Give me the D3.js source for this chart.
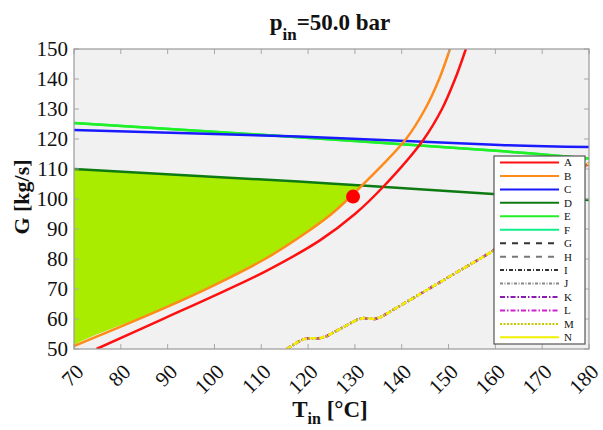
<!DOCTYPE html>
<html>
<head>
<meta charset="utf-8">
<script src="https://cdn.jsdelivr.net/npm/d3@7"></script>
<style>
  body { margin: 0; background: #fff; }
  text { font-family: "Liberation Serif", "Times New Roman", serif; fill: #111; }
</style>
</head>
<body>
<div id="chart"></div>
<script>
// values, [T_in, G]
const curveA = [[74.8, 50], [89.4, 60.3], [100, 67.8], [110.8, 75.8], [122.6, 86.3], [130, 95], [136, 104], [144.6, 119.7], [148.6, 130], [151.4, 140], [153.7, 150]];
const curveB = [[70, 51], [89.4, 63.7], [100, 71.3], [110.8, 80], [118.3, 87.4], [125, 95], [131.5, 104.5], [141, 120.2], [145, 130], [148, 140], [150.3, 150]];
const curveC = [[70, 123], [118, 120.8], [161, 118], [180, 117.3]];
const curveD = [[70, 110], [118, 105.8], [131.5, 104.5], [159.5, 101.7], [180, 99.7]];
const curveE = [[70, 125.3], [118, 120.6], [161, 116], [180, 113.5]];
const curveF = curveE;
const curveKL = [[115.4, 50], [118.3, 52.8], [119.8, 53.6], [122.5, 53.6], [124, 54.3], [130.5, 59.8], [131.8, 60.3], [134.3, 60], [135.5, 60.6], [159.2, 82.4], [180, 112]];
const opPoint = [129.6, 100.8];
const legendKeys = ["A", "B", "C", "D", "E", "F", "G", "H", "I", "J", "K", "L", "M", "N"];
const xTicks = d3.range(70, 181, 10);
const yTicks = d3.range(50, 151, 10);

const styles = {
  A: {color: "#ff1010", dash: null},
  B: {color: "#ff8a1a", dash: null},
  C: {color: "#1a1aff", dash: null},
  D: {color: "#0e7a12", dash: null},
  E: {color: "#22f022", dash: null},
  F: {color: "#10f08a", dash: null},
  G: {color: "#333333", dash: "6,6"},
  H: {color: "#777777", dash: "6,6"},
  I: {color: "#333333", dash: "4,2,1,2"},
  J: {color: "#888888", dash: "3,1.5,1,1.5"},
  K: {color: "#8a1ab0", dash: "5,2,1.5,2"},
  L: {color: "#d020d0", dash: "5,2,1.5,2"},
  M: {color: "#c8c800", dash: "2,1.5"},
  N: {color: "#f0f000", dash: null}
};

const W = 603, H = 430;
const margin = {top: 49, right: 14, bottom: 81, left: 74};

const svg = d3.select("#chart").append("svg")
  .attr("width", W).attr("height", H);

const x = d3.scaleLinear().domain([70, 180]).range([margin.left, W - margin.right]);
const y = d3.scaleLinear().domain([50, 150]).range([H - margin.bottom, margin.top]);

svg.append("defs").append("clipPath").attr("id", "clip")
  .append("rect")
  .attr("x", x(70)).attr("y", y(150))
  .attr("width", x(180) - x(70)).attr("height", y(50) - y(150));

// axes background
svg.append("rect")
  .attr("x", x(70)).attr("y", y(150))
  .attr("width", x(180) - x(70)).attr("height", y(50) - y(150))
  .attr("fill", "#f1f1f1");

const plot = svg.append("g").attr("clip-path", "url(#clip)");
const line = d3.line().x(d => x(d[0])).y(d => y(d[1])).curve(d3.curveCatmullRom);

// feasible region: below D, left of B
const tCut = 131.5;
const fillPts = curveD.filter(d => d[0] <= tCut)
  .concat(curveB.filter(d => d[0] <= tCut).reverse())
  .concat([[70, 50]]);
plot.append("path")
  .attr("d", d3.line().x(d => x(d[0])).y(d => y(d[1])).curve(d3.curveCatmullRom)(fillPts))
  .attr("fill", "#aaec00");

function drawCurve(data, key, w, extra, lin) {
  plot.append("path")
    .attr("d", lin ? d3.line().x(d => x(d[0])).y(d => y(d[1]))(data) : line(data))
    .attr("fill", "none")
    .attr("stroke", styles[key].color)
    .attr("stroke-width", w)
    .attr("stroke-dasharray", extra || styles[key].dash);
}

drawCurve(curveKL, "K", 2.5, null, true);
drawCurve(curveKL, "L", 2.5, null, true);
drawCurve(curveKL, "M", 2.5, null, true);
drawCurve(curveKL, "N", 2.5, "5,4", true);
drawCurve(curveF, "F", 2.5);
drawCurve(curveE, "E", 2.5);
drawCurve(curveC, "C", 2.5);
drawCurve(curveD, "D", 2.5);
drawCurve(curveB, "B", 2.5);
drawCurve(curveA, "A", 2.5);

plot.append("circle")
  .attr("cx", x(opPoint[0])).attr("cy", y(opPoint[1]))
  .attr("r", 7).attr("fill", "#ff0000");

// box + ticks (inward, all four sides)
const tk = svg.append("g").attr("stroke", "#a8a8a8").attr("stroke-width", 1);
xTicks.forEach(t => {
  tk.append("line").attr("x1", x(t)).attr("x2", x(t)).attr("y1", y(50)).attr("y2", y(50) - 5);
  tk.append("line").attr("x1", x(t)).attr("x2", x(t)).attr("y1", y(150)).attr("y2", y(150) + 5);
});
yTicks.forEach(t => {
  tk.append("line").attr("x1", x(70)).attr("x2", x(70) + 5).attr("y1", y(t)).attr("y2", y(t));
  tk.append("line").attr("x1", x(180)).attr("x2", x(180) - 5).attr("y1", y(t)).attr("y2", y(t));
});
svg.append("rect")
  .attr("x", x(70)).attr("y", y(150))
  .attr("width", x(180) - x(70)).attr("height", y(50) - y(150))
  .attr("fill", "none").attr("stroke", "#9a9a9a").attr("stroke-width", 1.2);

// tick labels
svg.append("g").selectAll("text").data(xTicks).join("text")
  .attr("transform", d => `translate(${x(d) + 11},${y(50) + 24}) rotate(-45)`)
  .attr("text-anchor", "end")
  .attr("font-size", 21)
  .text(d => d);

svg.append("g").selectAll("text").data(yTicks).join("text")
  .attr("x", x(70) - 6).attr("y", d => y(d))
  .attr("dy", "0.35em")
  .attr("text-anchor", "end")
  .attr("font-size", 21)
  .text(d => d);

// title
const title = svg.append("text")
  .attr("x", 330).attr("y", 30)
  .attr("text-anchor", "middle")
  .attr("font-size", 23).attr("font-weight", "bold");
title.append("tspan").text("p");
title.append("tspan").attr("font-size", 17).attr("dy", 10).text("in");
title.append("tspan").attr("dy", -10).text("=50.0 bar");

// axis labels
const xl = svg.append("text")
  .attr("x", 330).attr("y", 417)
  .attr("text-anchor", "middle")
  .attr("font-size", 23).attr("font-weight", "bold");
xl.append("tspan").text("T");
xl.append("tspan").attr("font-size", 16).attr("dy", 7).text("in");
xl.append("tspan").attr("dy", -7).text(" [°C]");

svg.append("text")
  .attr("transform", "translate(29,197) rotate(-90)")
  .attr("text-anchor", "middle")
  .attr("font-size", 22).attr("font-weight", "bold")
  .text("G [kg/s]");

// legend
const lg = svg.append("g").attr("transform", "translate(494,156)");
lg.append("rect")
  .attr("width", 91).attr("height", 188)
  .attr("fill", "#fff").attr("stroke", "#555").attr("stroke-width", 1.2);
const rowH = 13.45;
legendKeys.forEach((k, i) => {
  const yy = 6.5 + i * rowH;
  lg.append("line")
    .attr("x1", 6).attr("x2", 65).attr("y1", yy).attr("y2", yy)
    .attr("stroke", styles[k].color).attr("stroke-width", 2)
    .attr("stroke-dasharray", styles[k].dash);
  lg.append("text")
    .attr("x", 70).attr("y", yy).attr("dy", "0.35em")
    .attr("font-size", 11)
    .text(k);
});
</script>
</body>
</html>
